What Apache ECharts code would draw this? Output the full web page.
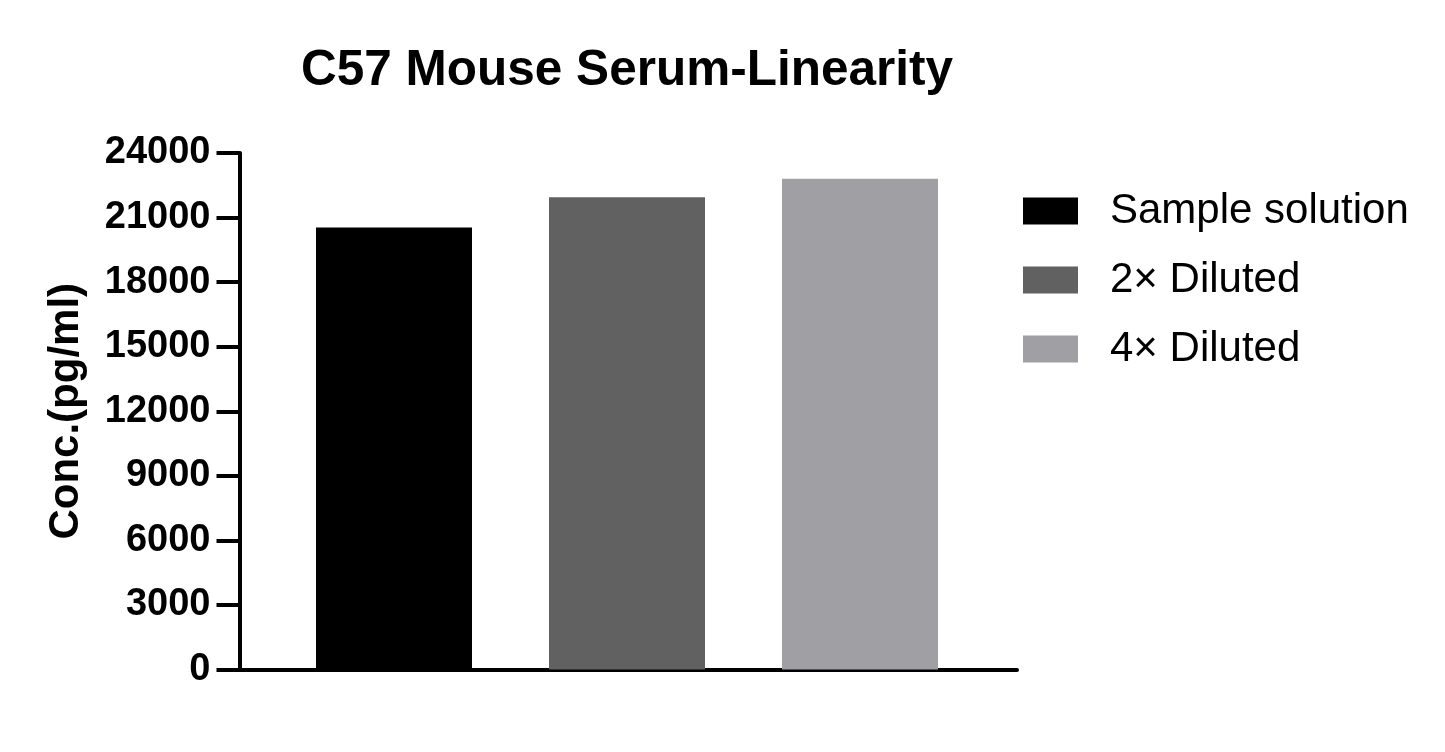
<!DOCTYPE html>
<html>
<head>
<meta charset="utf-8">
<script src="https://cdn.jsdelivr.net/npm/echarts@6/dist/echarts.min.js"></script>
<style>html,body{margin:0;padding:0;background:#fff;}#c{width:1445px;height:752px;}</style>
</head>
<body>
<div id="c"></div>
<script>
const title = 'C57 Mouse Serum-Linearity';
const categories = ['Sample solution', '2× Diluted', '4× Diluted'];
const values = [20540, 21940, 22800];
const colors = ['#000000', '#616161', '#a09fa3'];
const yTicks = { min: 0, max: 24000, interval: 3000 };
const yName = 'Conc.(pg/ml)';

const chart = echarts.init(document.getElementById('c'));
const FONT = 'Liberation Sans, Arial, Helvetica, sans-serif';

const series = categories.map((name, i) => ({
  name: name,
  type: 'bar',
  stack: 'all',
  xAxisIndex: 0,
  yAxisIndex: 0,
  barWidth: 156,
  itemStyle: { color: colors[i] },
  data: values.map((v, j) => (j === i ? v : '-'))
}));

chart.setOption({
  animation: false,
  backgroundColor: '#ffffff',
  title: {
    text: title,
    left: 622, top: 41, textAlign: 'center',
    textStyle: { fontFamily: FONT, fontWeight: 'bold', fontSize: 49.5, color: '#000' }
  },
  legend: {
    orient: 'vertical',
    left: 1023, top: 190, padding: 0,
    itemWidth: 55, itemHeight: 27, itemGap: 27,
    icon: 'rect',
    textStyle: { fontFamily: FONT, fontSize: 42, lineHeight: 42, color: '#000', padding: [0, 0, 0, 27] },
    data: categories
  },
  grid: [
    { left: 277.5, right: 1445 - 976.5, top: 153, bottom: 752 - 669.5, containLabel: false, outerBoundsMode: 'none' },
    { left: 239.5, right: 1445 - 1017, top: 153, bottom: 752 - 669.5, containLabel: false, outerBoundsMode: 'none' }
  ],
  xAxis: [
    { type: 'category', gridIndex: 0, data: categories, boundaryGap: true,
      axisLine: { show: false }, axisTick: { show: false }, axisLabel: { show: false } },
    { type: 'value', gridIndex: 1, min: 0, max: 1,
      axisLine: { show: true, onZero: false, lineStyle: { color: '#000', width: 4 } },
      axisTick: { show: false }, axisLabel: { show: false }, splitLine: { show: false } }
  ],
  yAxis: [
    { type: 'value', gridIndex: 0, min: yTicks.min, max: yTicks.max, interval: yTicks.interval,
      offset: 277.5 - 239.5,
      name: yName, nameLocation: 'middle', nameGap: 152, nameRotate: 90,
      nameTextStyle: { fontFamily: FONT, fontWeight: 'bold', fontSize: 42, color: '#000' },
      axisLine: { show: true, lineStyle: { color: '#000', width: 4 } },
      axisTick: { show: true, length: 23, lineStyle: { color: '#000', width: 4 } },
      axisLabel: { fontFamily: FONT, fontWeight: 'bold', fontSize: 38, color: '#000', margin: 29,
        formatter: function (v) { return String(v); } },
      splitLine: { show: false } },
    { type: 'value', gridIndex: 1, min: 0, max: 1, show: false }
  ],
  series: series
});
</script>
</body>
</html>
